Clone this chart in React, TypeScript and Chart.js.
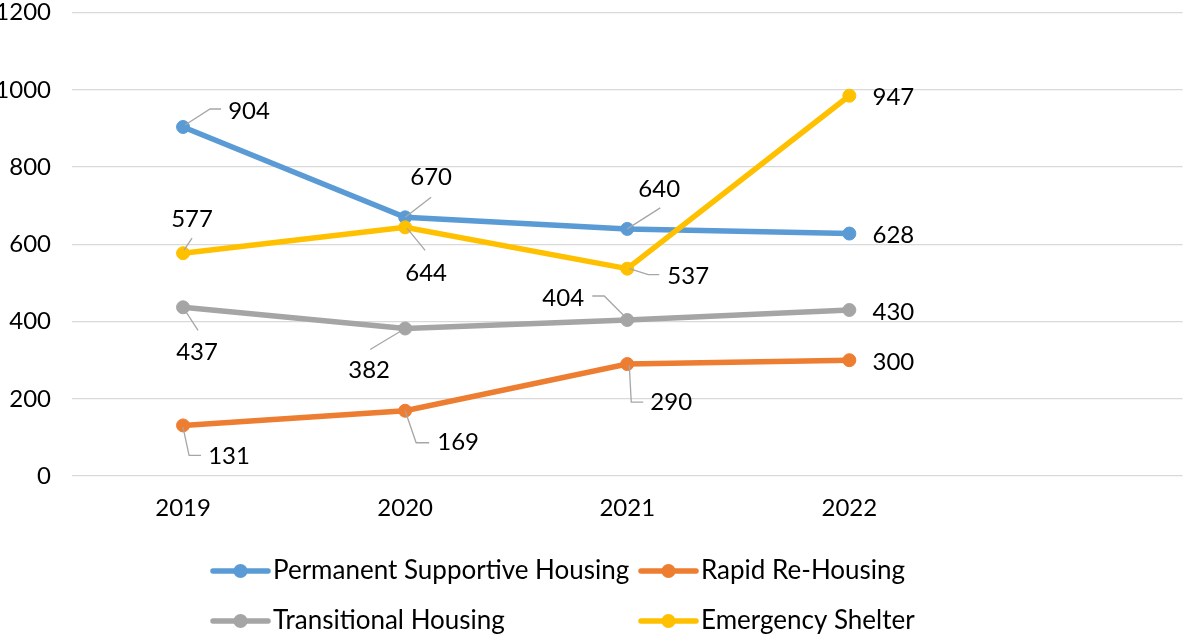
import React, { useEffect, useRef } from "react";
import { Chart, registerables } from "chart.js";

Chart.register(...registerables);

// ---- Data ----
const years = ["2019", "2020", "2021", "2022", ""];
const seriesNames = [
  "Permanent Supportive Housing",
  "Rapid Re-Housing",
  "Transitional Housing",
  "Emergency Shelter",
];
const permanentSupportive = [904, 670, 640, 628];
const rapidReHousing = [131, 169, 290, 300];
const transitional = [437, 382, 404, 430];
// the 2022 marker sits just under 1000 in the picture while its label reads 947
const emergencyShelter = [577, 644, 537, 985];
const emergencyShelterLabels = ["577", "644", "537", "947"];
const yTicks = [0, 200, 400, 600, 800, 1000, 1200];

// ---- Styles ----
const colors = ["#5B9BD5", "#ED7D31", "#A5A5A5", "#FFC000"];
const FONT = "Lato";
const FS = 24;
const LEGEND_FS = 26;
const TEXT = "#000000";
const LEADER = "#A6A6A6";

// label placement: [dx, dy] of label centre from point, and leader path (offsets from point)
type LabelSpec = { d: [number, number]; leader: [number, number][] };
const R: LabelSpec = { d: [44, 2], leader: [] };
const labelSpecs: LabelSpec[][] = [
  [
    { d: [66, -16], leader: [[2, -2], [27, -18], [38, -18]] },
    { d: [26, -40], leader: [[0, 0], [26, -20]] },
    { d: [32, -40], leader: [[0, 0], [33, -21]] },
    R,
  ],
  [
    { d: [46, 31], leader: [[0, 2], [6, 30], [18, 30]] },
    { d: [53, 32], leader: [[0, 0], [11, 32], [24, 32]] },
    { d: [44, 38], leader: [[2, 1], [4, 38], [16, 38]] },
    R,
  ],
  [
    { d: [14, 45], leader: [[0, 0], [15, 23]] },
    { d: [-36, 42], leader: [[0, 0], [-35, 21]] },
    { d: [-64, -22], leader: [[-4, -5], [-23, -24], [-35, -24]] },
    R,
  ],
  [
    { d: [9, -34], leader: [[1, -3], [9, -15]] },
    { d: [21, 46], leader: [[2, 1], [20, 23]] },
    { d: [61, 8], leader: [[2, 0], [21, 6], [32, 6]] },
    R,
  ],
];

const seriesValues = [permanentSupportive, rapidReHousing, transitional, emergencyShelter];
const seriesLabelTexts = [
  permanentSupportive.map(String),
  rapidReHousing.map(String),
  transitional.map(String),
  emergencyShelterLabels,
];

const dataLabelPlugin = {
  id: "dataLabels",
  afterDatasetsDraw(chart: any) {
    const ctx = chart.ctx;
    ctx.save();
    chart.data.datasets.forEach((ds: any, di: number) => {
      const meta = chart.getDatasetMeta(di);
      meta.data.forEach((pt: any, i: number) => {
        const spec = labelSpecs[di][i];
        const px = pt.x;
        const py = pt.y;
        if (spec.leader.length > 1) {
          ctx.beginPath();
          ctx.strokeStyle = LEADER;
          ctx.lineWidth = 1.3;
          spec.leader.forEach(([lx, ly], k) => {
            if (k === 0) ctx.moveTo(px + lx, py + ly);
            else ctx.lineTo(px + lx, py + ly);
          });
          ctx.stroke();
        }
        ctx.fillStyle = TEXT;
        ctx.font = `${FS}px ${FONT}`;
        ctx.textAlign = "center";
        ctx.textBaseline = "middle";
        ctx.fillText(seriesLabelTexts[di][i], px + spec.d[0], py + spec.d[1]);
      });
    });
    ctx.restore();
  },
};

const legendPlugin = {
  id: "customLegend",
  afterDraw(chart: any) {
    const ctx = chart.ctx;
    const cols = [213, 641];
    const rows = [571, 621];
    ctx.save();
    seriesNames.forEach((name, i) => {
      const x = cols[i % 2];
      const y = rows[Math.floor(i / 2)];
      ctx.strokeStyle = colors[i];
      ctx.lineWidth = 5.5;
      ctx.lineCap = "round";
      ctx.beginPath();
      ctx.moveTo(x, y);
      ctx.lineTo(x + 55, y);
      ctx.stroke();
      ctx.fillStyle = colors[i];
      ctx.beginPath();
      ctx.arc(x + 27.5, y, 7, 0, Math.PI * 2);
      ctx.fill();
      ctx.fillStyle = TEXT;
      ctx.font = `${LEGEND_FS}px ${FONT}`;
      ctx.textAlign = "left";
      ctx.textBaseline = "middle";
      ctx.fillText(name, x + 60, y);
    });
    ctx.restore();
  },
};

export default function App() {
  const ref = useRef<HTMLCanvasElement | null>(null);
  useEffect(() => {
    if (!ref.current) return;
    const chart = new Chart(ref.current, {
      type: "line",
      data: {
        labels: years,
        datasets: seriesNames.map((name, i) => ({
          label: name,
          data: seriesValues[i],
          borderColor: colors[i],
          backgroundColor: colors[i],
          pointBackgroundColor: colors[i],
          pointBorderColor: colors[i],
          pointBorderWidth: 1,
          pointRadius: 6.5,
          pointHoverRadius: 6.5,
          borderWidth: 5.5,
          tension: 0,
          fill: false,
          order: 4 - i,
        })),
      },
      options: {
        animation: false,
        responsive: false,
        maintainAspectRatio: false,
        devicePixelRatio: 1,
        events: [],
        layout: { padding: { top: 0, right: 0, bottom: 102, left: 0 } },
        plugins: { legend: { display: false }, tooltip: { enabled: false } },
        scales: {
          x: {
            type: "category",
            offset: true,
            grid: { display: false, drawTicks: false },
            border: { display: false },
            ticks: {
              color: TEXT,
              font: { family: FONT, size: FS, lineHeight: 1.2 },
              padding: 18,
              maxRotation: 0,
              autoSkip: false,
            },
            afterFit: (s: any) => {
              s.height = 60;
            },
          },
          y: {
            min: 0,
            max: 1200,
            afterBuildTicks: (s: any) => {
              s.ticks = yTicks.map((v) => ({ value: v }));
            },
            ticks: {
              color: TEXT,
              font: { family: FONT, size: FS, lineHeight: 1.2 },
              padding: 21,
              callback: (v: any) => String(v),
            },
            grid: { color: "#D9D9D9", lineWidth: 1.3, drawTicks: false },
            border: { display: false },
            afterFit: (s: any) => {
              s.width = 72;
              s.paddingTop = 12.7;
              s.paddingBottom = 12.7;
            },
          },
        },
      },
      plugins: [dataLabelPlugin, legendPlugin],
    });
    return () => chart.destroy();
  }, []);
  return (
    <div style={{ position: "absolute", left: 0, top: 0, width: 1190, height: 638, background: "#fff" }}>
      <canvas ref={ref} width={1190} height={638} style={{ display: "block" }} />
    </div>
  );
}
